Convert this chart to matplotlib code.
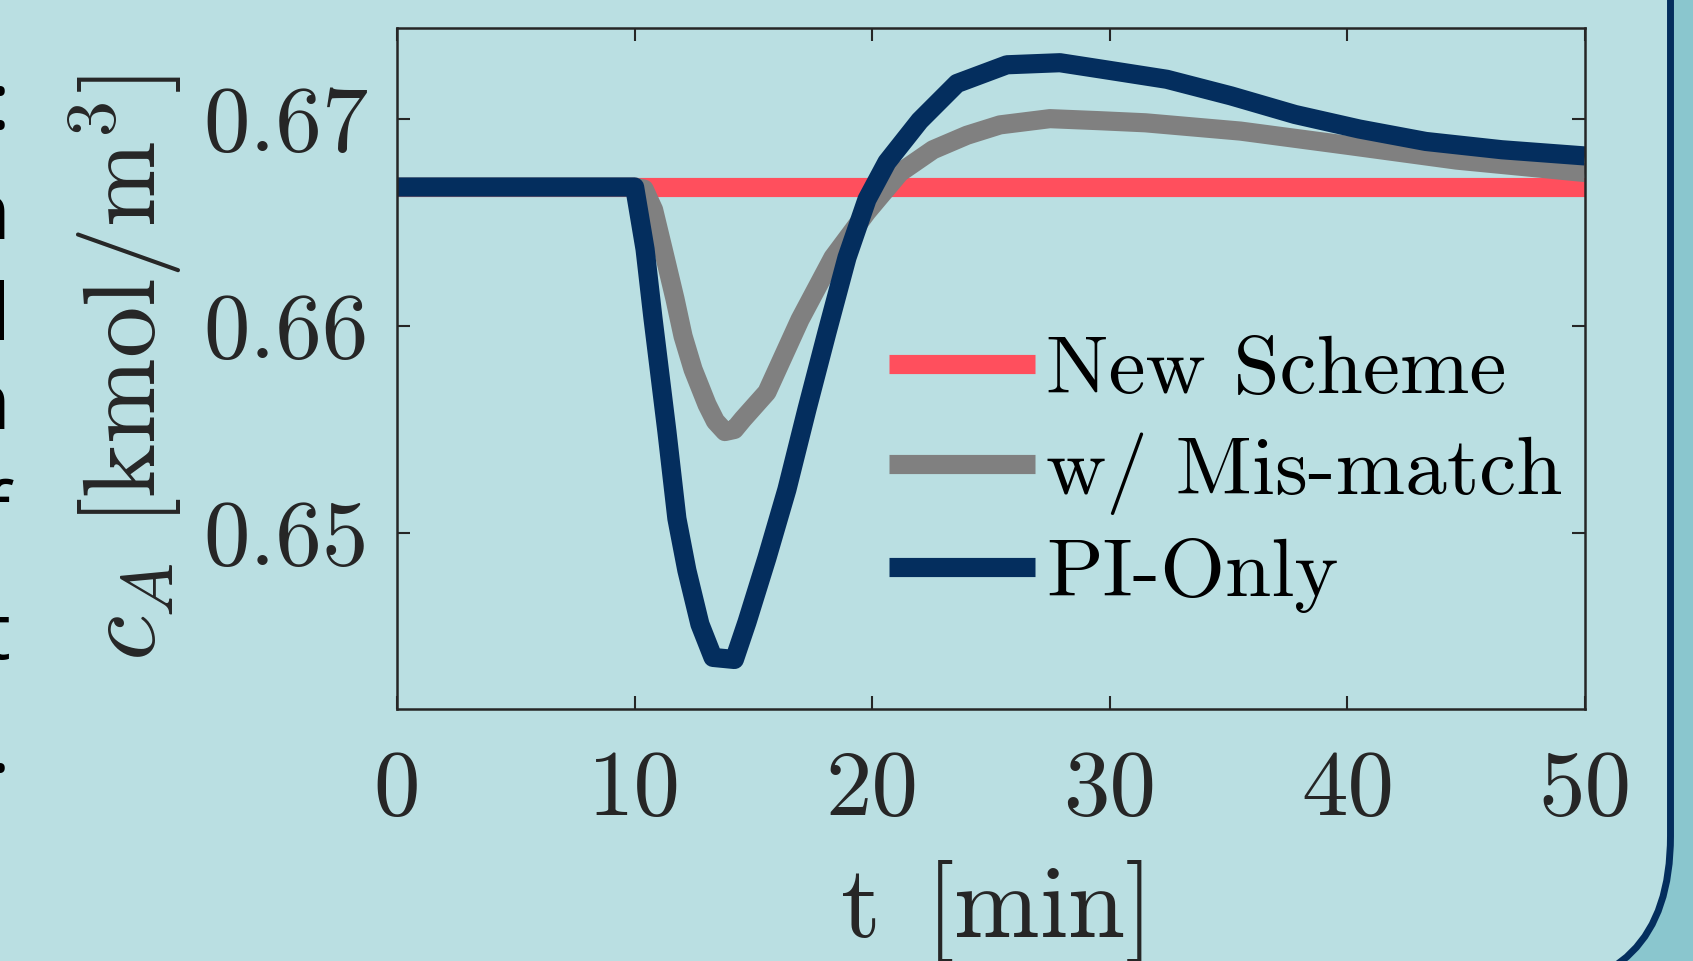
import matplotlib
matplotlib.use("Agg")
import matplotlib.pyplot as plt
from matplotlib.patches import FancyBboxPatch

# response of c_A after the disturbance at t = 10 min
t_new = [0, 50]
c_new = [0.6667, 0.6667]

t_mis = [0, 10, 10.4, 10.8, 11.2, 11.7, 12.04, 12.46, 13.05, 13.4, 13.8, 14.2, 14.56, 15.57,
         16.96, 18.35, 19.78, 21.17, 22.56, 23.99, 25.38, 27.48, 29.6, 31.5, 35.5, 40.1,
         44.6, 50]
c_mis = [0.6667, 0.6667, 0.6666, 0.6656, 0.6637, 0.6613, 0.6595, 0.6579, 0.6562, 0.6554,
         0.6549, 0.6550, 0.6555, 0.6568, 0.6603, 0.6633, 0.6655, 0.6674, 0.6685, 0.6692,
         0.6697, 0.6700, 0.6699, 0.6698, 0.6694, 0.6687, 0.6680, 0.6674]

t_pi = [0, 10, 10.44, 10.77, 11.36, 11.78, 12.2, 12.75, 13.3, 14.2, 14.73, 15.57, 16.41,
        17.26, 18.1, 18.94, 19.78, 20.62, 22.0, 23.57, 25.67, 27.9, 29.6, 32.4, 35.1, 37.8,
        40.5, 43.3, 46.5, 50]
c_pi = [0.6667, 0.6667, 0.6637, 0.6604, 0.6549, 0.6507, 0.6482, 0.6456, 0.6440, 0.6439,
        0.6457, 0.6488, 0.6521, 0.6560, 0.6597, 0.6633, 0.6661, 0.6679, 0.6699, 0.6717,
        0.6726, 0.6727, 0.6724, 0.6719, 0.6711, 0.6702, 0.6695, 0.6689, 0.6685, 0.6682]

labels = ["New Scheme", "w/ Mis-match", "PI-Only"]
colors = ["#ff4f5d", "#808080", "#042e5e"]

x_ticks = [0, 10, 20, 30, 40, 50]
x_ticklabels = ["0", "10", "20", "30", "40", "50"]
y_ticks = [0.65, 0.66, 0.67]
y_ticklabels = ["0.65", "0.66", "0.67"]

# bits of the neighbouring poster column, cut off at the left edge
edge_chars = [":", "n", "l", "n", "f", "t", "."]
edge_y = [129, 239, 340, 429, 539, 659, 772]

plt.rcParams["font.family"] = "serif"
plt.rcParams["font.serif"] = ["cmr10"]
plt.rcParams["mathtext.fontset"] = "cm"
plt.rcParams["axes.formatter.use_mathtext"] = True

light = "#badfe2"
dark = "#8ac6ce"
navy = "#042e5e"
ink = "#262626"

fig = plt.figure(figsize=(16.93, 9.61), dpi=100, facecolor=dark)

# rounded poster panel
panel = FancyBboxPatch((-5, -0.30), 5 + 16.705, 20, boxstyle="round,pad=0,rounding_size=1.55",
                       transform=fig.dpi_scale_trans, facecolor=light, edgecolor=navy,
                       linewidth=5, zorder=-10)
fig.add_artist(panel)

for ch, yy in zip(edge_chars, edge_y):
    fig.text(10 / 1693, 1 - yy / 961, ch, ha="right", va="baseline", fontsize=56,
             family="Open Sans", color="black")

ax = fig.add_axes([397 / 1693, 252 / 961, 1188 / 1693, 681 / 961])
ax.set_facecolor("none")

for t, c, lab, col in zip([t_new, t_mis, t_pi], [c_new, c_mis, c_pi], labels, colors):
    ax.plot(t, c, color=col, linewidth=13.8, label=lab, solid_joinstyle="round",
            solid_capstyle="butt")

ax.set_xlim(0, 50)
ax.set_ylim(0.64151, 0.674375)
ax.set_xticks(x_ticks, x_ticklabels)
ax.set_yticks(y_ticks, y_ticklabels)
ax.tick_params(direction="in", length=9.5, width=1.5, color=ink, labelcolor=ink,
               labelsize=67, top=True, right=True)
ax.tick_params(axis="x", pad=30)
ax.tick_params(axis="y", pad=20)
for sp in ax.spines.values():
    sp.set_linewidth(1.8)
    sp.set_color(ink)

ax.set_xlabel(r"$\mathrm{t}\ \,[\mathrm{min}]$", fontsize=74, color=ink, labelpad=18)
ax.set_ylabel(r"$c_A\ [\mathrm{kmol/m^3}]$", fontsize=74, color=ink, labelpad=14)

ax.legend(loc="upper left", bbox_to_anchor=(0.414, 0.55), frameon=False, fontsize=60,
          handlelength=1.76, handletextpad=0.13, labelspacing=0.28, borderpad=0,
          borderaxespad=0)

fig.savefig("out.png", dpi=100, facecolor=fig.get_facecolor())
